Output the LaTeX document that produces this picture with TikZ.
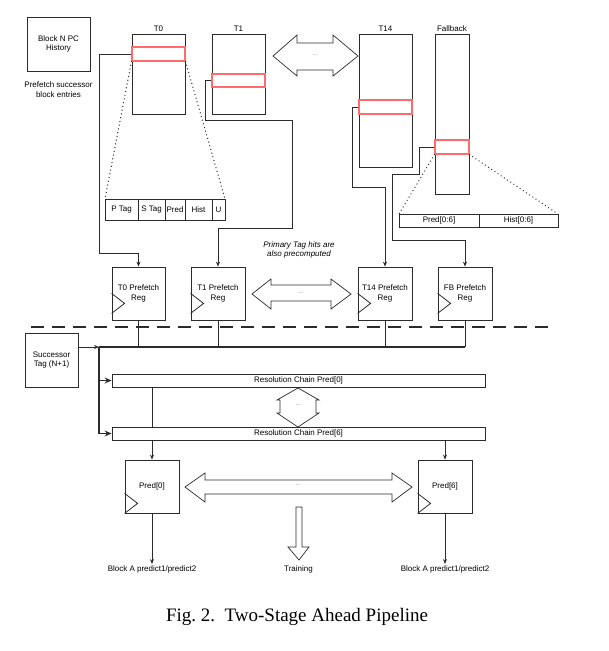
\documentclass[tikz,border=0pt]{standalone}
\usepackage{fontspec}
\setmainfont{Liberation Sans}
\newfontfamily\capfont{Liberation Serif}
\usetikzlibrary{arrows.meta,positioning,calc}
\definecolor{Ink}{HTML}{2B2B2B}
\definecolor{HitRed}{HTML}{FF6B6B}
\definecolor{DotGray}{HTML}{777777}

\begin{document}
\begin{tikzpicture}[x=1pt,y=-1pt,>={Stealth[length=5pt,width=4pt]},
  font=\fontsize{8}{9.5}\selectfont,
  box/.style={draw=Ink,line width=0.8pt,inner sep=0pt,align=center},
  hit/.style={draw=HitRed,line width=1.1pt,inner sep=0pt},
  cell/.style={draw=Ink,line width=0.8pt,inner sep=0pt,outer sep=0pt},
  wire/.style={draw=Ink,line width=0.8pt},
  bus/.style={draw=Ink,line width=1.5pt},
  fat/.style={draw=Ink,line width=0.7pt,fill=white},
  dotline/.style={draw=Ink,line width=1.4pt,dash pattern=on 0.01pt off 3.8pt,line cap=round},
  dots/.style={text=DotGray,font=\fontsize{6}{7}\selectfont}]
  \useasboundingbox (0,0) rectangle (609,651);

  % history box and note
  \node[box,minimum width=63,minimum height=54] (hist) at (58.5,44) {Block N PC\\History};
  \node[align=center] (note) at (58.5,89.5) {Prefetch successor\\block entries};

  % tables with the hit rows
  \node[box,minimum width=53,minimum height=80] (t0) at (158.5,74) {};
  \node[box,minimum width=53,minimum height=80] (t1) at (238.5,74) {};
  \node[box,minimum width=53,minimum height=133] (t14) at (385.5,100.5) {};
  \node[box,minimum width=34,minimum height=160] (fb) at (452,114) {};
  \node[anchor=south,inner sep=1.5pt] (t0lbl) at (t0.north) {T0};
  \node[anchor=south,inner sep=1.5pt] (t1lbl) at (t1.north) {T1};
  \node[anchor=south,inner sep=1.5pt] (t14lbl) at (t14.north) {T14};
  \node[anchor=south,inner sep=1.5pt] (fblbl) at (fb.north) {Fallback};
  \node[hit,minimum width=53,minimum height=14] (r0) at (158.5,54) {};
  \node[hit,minimum width=53,minimum height=13] (r1) at (238.5,80.5) {};
  \node[hit,minimum width=53,minimum height=14] (r14) at (385.5,107) {};
  \node[hit,minimum width=34,minimum height=14] (rfb) at (452,147) {};

  \draw[fat] (273,56) -- (297,35) -- (297,43) -- (333,43) -- (333,35) -- (358,56)
    -- (333,76) -- (333,70) -- (297,70) -- (297,76) -- cycle;
  \node[dots] (tdots) at (315,55) {...};

  % entry layouts
  \node[cell,minimum width=33,minimum height=21] (ptag) at (121.5,209.5) {P Tag};
  \node[cell,minimum width=27,minimum height=21,right=0pt of ptag] (stag) {S Tag};
  \node[cell,minimum width=20,minimum height=21,right=0pt of stag] (pred) {Pred};
  \node[cell,minimum width=27,minimum height=21,right=0pt of pred] (hst) {Hist};
  \node[cell,minimum width=13,minimum height=21,right=0pt of hst] (ubit) {U};
  \node[cell,minimum width=80,minimum height=13] (fpred) at (439,220.5) {Pred[0:6]};
  \node[cell,minimum width=79,minimum height=13,right=0pt of fpred] (fhist) {Hist[0:6]};
  \draw[dotline] (r0.south west) -- (ptag.north west);
  \draw[dotline] (r0.south east) -- (ubit.north east);
  \draw[dotline] (rfb.south west) -- (fpred.north west);
  \draw[dotline] (rfb.south east) -- (fhist.north east);

  % prefetch registers
  \node[box,minimum width=53,minimum height=53] (p0) at (138.5,293.5) {T0 Prefetch\\Reg};
  \node[box,minimum width=54,minimum height=53] (p1) at (218,293.5) {T1 Prefetch\\Reg};
  \node[box,minimum width=54,minimum height=53] (p14) at (385,293.5) {T14 Prefetch\\Reg};
  \node[box,minimum width=54,minimum height=53] (pfb) at (465,293.5) {FB Prefetch\\Reg};
  \node[align=center,font=\fontsize{8}{9.5}\selectfont\itshape] (pnote) at (299,250) {Primary Tag hits are\\also precomputed};
  \draw[fat] (252,294) -- (271,279) -- (271,285) -- (331,285) -- (331,279) -- (351,294)
    -- (331,309) -- (331,301) -- (271,301) -- (271,309) -- cycle;
  \node[dots] (pdots) at (301,293) {...};

  \draw[wire,->] (r0.west) -- (99,54) -- (99,253) -| (p0.north);
  \draw[wire,->] (r1.west) -- (205,80.5) -- (205,120) -- (292,120) -- (292,228) -| (p1.north);
  \draw[wire,->] (r14.west) -- (352,107) -- (352,187) -| (p14.north);
  \draw[wire,->] (rfb.west) -- (419,147) -- (419,174) -- (392,174) -- (392,240) -| (pfb.north);

  % stage boundary
  \coordinate (sepl) at (31,327);
  \coordinate (sepr) at (555,327);
  \draw[Ink,line width=1.6pt,dash pattern=on 13pt off 8pt] (sepl) -- (sepr);

  % second stage
  \node[box,minimum width=53,minimum height=54] (succ) at (51.5,360) {Successor\\Tag (N+1)};
  \coordinate (busl) at (99,347);
  \coordinate (busr) at (465,347);
  \node[box,minimum width=373,minimum height=13] (rc0) at (298.5,380.5) {Resolution Chain Pred[0]};
  \node[box,minimum width=373,minimum height=13] (rc6) at (298.5,433.5) {Resolution Chain Pred[6]};
  \foreach \r in {p0,p1,p14,pfb}
    \draw[wire] (\r.south) -- (\r.south |- busl);
  \draw[bus] (busl) -- (busr);
  \draw[wire,->] (succ.east |- busl) -- (busl);
  \draw[bus] (busl) -- (busl |- rc6.west);
  \draw[bus,-{Stealth[length=7pt,width=6pt]}] (busl |- rc0.west) -- (rc0.west);
  \draw[bus,-{Stealth[length=7pt,width=6pt]}] (busl |- rc6.west) -- (rc6.west);
  \draw[fat] (298,388) -- (319,400) -- (316,400) -- (316,413) -- (319,413) -- (298,427)
    -- (277,413) -- (280,413) -- (280,400) -- (277,400) -- cycle;
  \node[dots] (rdots) at (298,405) {...};

  \node[box,minimum width=54,minimum height=53] (pr0) at (152,486.5) {Pred[0]};
  \node[box,minimum width=54,minimum height=53] (pr6) at (445,486.5) {Pred[6]};
  \draw[wire] (rc0.south -| pr0.north) -- (rc6.north -| pr0.north);
  \draw[wire,->] (rc6.south -| pr0.north) -- (pr0.north);
  \draw[wire,->] (rc6.south -| pr6.north) -- (pr6.north);
  \draw[fat] (185,487) -- (205,473) -- (205,480) -- (392,480) -- (392,473) -- (412,487)
    -- (392,502) -- (392,494) -- (205,494) -- (205,502) -- cycle;
  \node[dots] (bdots) at (298,485) {...};
  \foreach \r/\dy in {p0/7,p1/7,p14/7,pfb/7,pr0/0,pr6/0}
    \draw[wire] ($(\r.south west)+(0,-\dy)$) -- ++(13,-10) -- ++(-13,-10);

  % outputs
  \node[inner sep=1pt] (out0) at (152,569) {Block A predict1/predict2};
  \node[inner sep=1pt] (out6) at (445,569) {Block A predict1/predict2};
  \node[inner sep=1pt] (train) at (298.5,569) {Training};
  \draw[wire,->] (pr0.south) -- (out0.north);
  \draw[wire,->] (pr6.south) -- (out6.north);
  \draw[fat] (296,507) -- (302,507) -- (302,547) -- (309,547) -- (299,560) -- (288,547)
    -- (296,547) -- cycle;

  \node[font=\capfont\fontsize{19}{22}\selectfont] (cap) at (297,617) {Fig.~2.\ \ Two-Stage Ahead Pipeline};
\end{tikzpicture}
\end{document}
